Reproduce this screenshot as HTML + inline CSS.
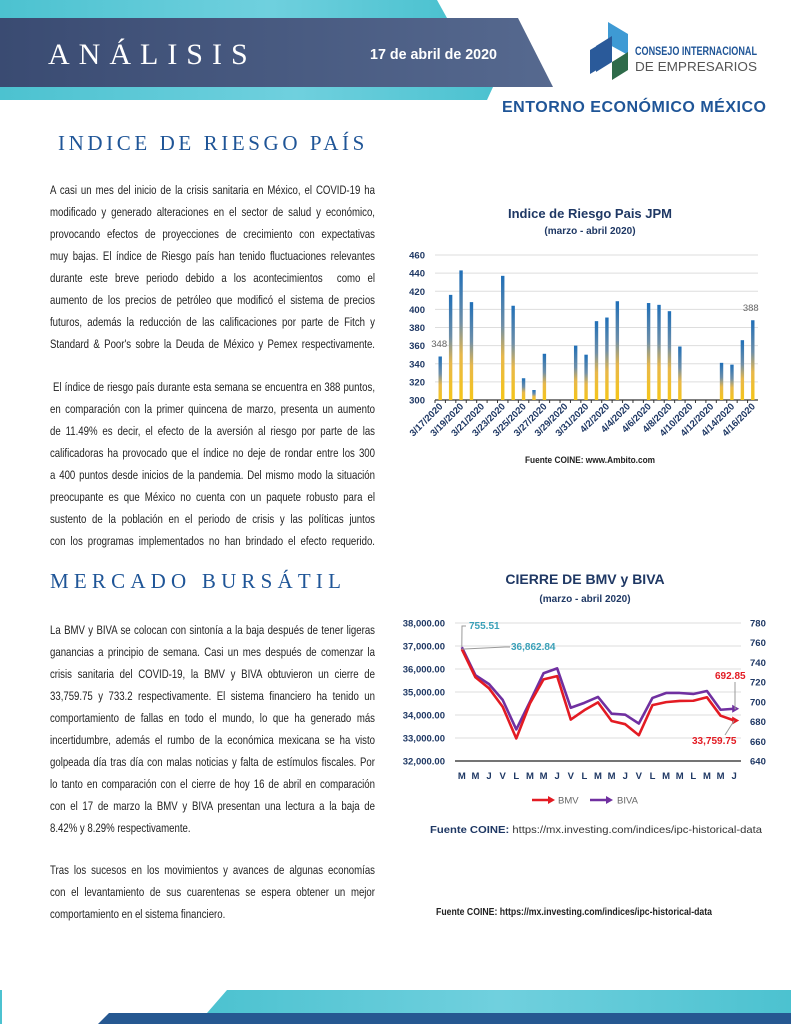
<!DOCTYPE html>
<html><head><meta charset="utf-8"><style>
*{margin:0;padding:0;box-sizing:border-box}
body{width:791px;height:1024px;position:relative;background:#fff;overflow:hidden;font-family:"Liberation Sans",sans-serif}
.abs{position:absolute}
.para{position:absolute;left:50px;width:412px;font-family:"Liberation Sans",sans-serif;font-size:12.2px;line-height:22px;color:#222;transform:scaleX(0.7888);transform-origin:0 0}
.para div{text-align:justify;text-align-last:justify;white-space:normal}
.para div.last{text-align-last:left}
.h{position:absolute;font-family:"Liberation Serif",serif;font-size:21px;letter-spacing:3.6px;color:#1f5597;white-space:nowrap}
</style></head><body>
<svg class="abs" style="left:0;top:0" width="791" height="130">
<defs><linearGradient id="cy" x1="0" x2="1"><stop offset="0" stop-color="#4cc2d0"/><stop offset="0.6" stop-color="#6fd0de"/><stop offset="1" stop-color="#4cc2d0"/></linearGradient>
<linearGradient id="nv" x1="0" x2="1"><stop offset="0" stop-color="#3a4b72"/><stop offset="1" stop-color="#56698f"/></linearGradient></defs>
<polygon points="0,0 437,0 447,18 0,18" fill="url(#cy)"/>
<polygon points="0,87 493,87 487,100 0,100" fill="url(#cy)"/>
<polygon points="0,18 518,18 553,87 0,87" fill="url(#nv)"/>
<text x="48" y="64" font-family="Liberation Serif" font-size="30" fill="#fff" letter-spacing="9">ANÁLISIS</text>
<text x="370" y="59" font-family="Liberation Sans" font-weight="bold" font-size="15" fill="#fff" textLength="127" lengthAdjust="spacingAndGlyphs">17 de abril de 2020</text>
<g>
<polygon points="608,22 628,34 628,55 608,44" fill="#3e9ad4"/>
<polygon points="596,46 612,36 612,62 596,72" fill="#2a5a9a"/>
<polygon points="612,62 628,52 628,70 612,80" fill="#2e6b4a"/>
<polygon points="590,50 600,44 600,68 590,74" fill="#2a5a9a"/>
</g>
<text x="635" y="55" font-family="Liberation Sans" font-weight="bold" font-size="12" fill="#1f5597" textLength="122" lengthAdjust="spacingAndGlyphs">CONSEJO INTERNACIONAL</text>
<text x="635" y="71" font-family="Liberation Sans" font-size="13" fill="#555" textLength="122" lengthAdjust="spacingAndGlyphs">DE EMPRESARIOS</text>
<text x="502" y="112" font-family="Liberation Sans" font-weight="bold" font-size="16" fill="#1f5597" textLength="264" lengthAdjust="spacing">ENTORNO ECONÓMICO MÉXICO</text>
</svg>

<div class="h" style="left:58px;top:131px">INDICE DE RIESGO PAÍS</div>
<div class="para" style="top:179px">
<div>A casi un mes del inicio de la crisis sanitaria en México, el COVID-19 ha</div>
<div>modificado y generado alteraciones en el sector de salud y económico,</div>
<div>provocando efectos de proyecciones de crecimiento con expectativas</div>
<div>muy bajas. El índice de Riesgo país han tenido fluctuaciones relevantes</div>
<div>durante este breve periodo debido a los acontecimientos&nbsp; como el</div>
<div>aumento de los precios de petróleo que modificó el sistema de precios</div>
<div>futuros, además la reducción de las calificaciones por parte de Fitch y</div>
<div>Standard &amp; Poor's sobre la Deuda de México y Pemex respectivamente.</div>
</div>
<div class="para" style="top:376px">
<div style="white-space:nowrap">&nbsp;El índice de riesgo país durante esta semana se encuentra en 388 puntos,</div>
<div>en comparación con la primer quincena de marzo, presenta un aumento</div>
<div>de 11.49% es decir, el efecto de la aversión al riesgo por parte de las</div>
<div>calificadoras ha provocado que el índice no deje de rondar entre los 300</div>
<div>a 400 puntos desde inicios de la pandemia. Del mismo modo la situación</div>
<div>preocupante es que México no cuenta con un paquete robusto para el</div>
<div>sustento de la población en el periodo de crisis y las políticas juntos</div>
<div>con los programas implementados no han brindado el efecto requerido.</div>
</div>
<div class="h" style="left:50px;top:569px;letter-spacing:5.2px">MERCADO BURSÁTIL</div>
<div class="para" style="top:619px">
<div>La BMV y BIVA se colocan con sintonía a la baja después de tener ligeras</div>
<div>ganancias a principio de semana. Casi un mes después de comenzar la</div>
<div>crisis sanitaria del COVID-19, la BMV y BIVA obtuvieron un cierre de</div>
<div>33,759.75 y 733.2 respectivamente. El sistema financiero ha tenido un</div>
<div>comportamiento de fallas en todo el mundo, lo que ha generado más</div>
<div>incertidumbre, además el rumbo de la económica mexicana se ha visto</div>
<div>golpeada día tras día con malas noticias y falta de estímulos fiscales. Por</div>
<div>lo tanto en comparación con el cierre de hoy 16 de abril en comparación</div>
<div>con el 17 de marzo la BMV y BIVA presentan una lectura a la baja de</div>
<div class="last">8.42% y 8.29% respectivamente.</div>
</div>
<div class="para" style="top:859px">
<div>Tras los sucesos en los movimientos y avances de algunas economías</div>
<div>con el levantamiento de sus cuarentenas se espera obtener un mejor</div>
<div class="last">comportamiento en el sistema financiero.</div>
</div>

<svg id="bar" class="abs" style="left:0;top:0" width="791" height="1024"></svg>

<svg class="abs" style="left:0;top:990px" width="791" height="34">
<defs><linearGradient id="cy2" x1="0" x2="1"><stop offset="0" stop-color="#4cc2d0"/><stop offset="0.5" stop-color="#70d0de"/><stop offset="1" stop-color="#4cc2d0"/></linearGradient></defs>
<polygon points="227,0 791,0 791,23 207,23" fill="url(#cy2)"/>
<polygon points="109,23 791,23 791,34 98,34" fill="#265891"/>
<rect x="0" y="0" width="2" height="34" fill="#4cc2d0"/>
</svg>

<script>
const NS="http://www.w3.org/2000/svg";
const svg=document.getElementById('bar');
function mk(t,a,p){const e=document.createElementNS(NS,t);for(const k in a)e.setAttribute(k,a[k]);(p||svg).appendChild(e);return e;}
function txt(x,y,s,a){const e=mk('text',Object.assign({x:x,y:y},a));e.textContent=s;return e;}

// ---- Bar chart data ----
const barDates=["3/17/2020","3/18","3/19/2020","3/20","3/21/2020","3/22","3/23/2020","3/24","3/25/2020","3/26","3/27/2020","3/28","3/29/2020","3/30","3/31/2020","4/1","4/2/2020","4/3","4/4/2020","4/5","4/6/2020","4/7","4/8/2020","4/9","4/10/2020","4/11","4/12/2020","4/13","4/14/2020","4/15","4/16/2020"];
const barValues=[348,416,443,408,null,null,437,404,324,311,351,null,null,360,350,387,391,409,null,null,407,405,398,359,null,null,null,341,339,366,388];
const barTicks=[300,320,340,360,380,400,420,440,460];

const bx0=435,bx1=758,by0=400,by1=255,bmin=300,bmax=460;
const bw=(bx1-bx0)/barDates.length;
const bX=i=>bx0+bw*(i+0.5);
const bY=v=>by0-(v-bmin)/(bmax-bmin)*(by0-by1);
const defs=mk('defs',{});
const g=mk('linearGradient',{id:'bg',x1:0,x2:0,y1:0,y2:1},defs);
mk('stop',{offset:'0','stop-color':'#1f6fb8'},g);
mk('stop',{offset:'0.4','stop-color':'#6f8fa8'},g);
mk('stop',{offset:'0.65','stop-color':'#e8b84a'},g);
mk('stop',{offset:'1','stop-color':'#f5c518'},g);

let t=txt(590,218,"Indice de Riesgo Pais JPM",{'text-anchor':'middle','font-size':13,'font-weight':'bold',fill:'#1f3864'});

t=txt(590,234,"(marzo - abril 2020)",{'text-anchor':'middle','font-size':10,'font-weight':'bold',fill:'#1f3864'});

barTicks.forEach(v=>{
  const l=mk('line',{x1:bx0,x2:bx1,y1:bY(v),y2:bY(v),stroke:v===300?'#333':'#ddd','stroke-width':v===300?1.2:1});
  
  const tt=txt(425,bY(v)+3.5,String(v),{'text-anchor':'end','font-size':9.5,'font-weight':'bold',fill:'#1f3864'});
  
});
barDates.forEach((d,i)=>{
  const tk=mk('line',{x1:bx0+bw*i,x2:bx0+bw*i,y1:by0,y2:by0+3,stroke:'#333'});
  
  const v=barValues[i];
  if(v!=null){
    const r=mk('rect',{x:bX(i)-1.7,y:bY(v),width:3.4,height:by0-bY(v),fill:'url(#bg)'});
    
  }
  if(i%2===0){
    const x=bX(i)+3,y=by0+7;
    const tl=txt(x,y,d,{'text-anchor':'end','font-size':9.5,'font-weight':'bold',fill:'#1f3864',transform:`rotate(-45 ${x} ${y})`});
    
  }
});
t=txt(bX(0)-1,347,"348",{'text-anchor':'middle','font-size':9.5,fill:'#666'});
t=txt(bX(30)-2,311,"388",{'text-anchor':'middle','font-size':9.5,fill:'#666'});
t=txt(590,463,"Fuente COINE: www.Ambito.com",{'text-anchor':'middle','font-size':9.5,'font-weight':'bold',fill:'#222',textLength:130,lengthAdjust:'spacingAndGlyphs'});


// ---- Line chart data ----
const lineDays=["M","M","J","V","L","M","M","J","V","L","M","M","J","V","L","M","M","L","M","M","J"];
const bmvValues=[36863,35640,35160,34360,32980,34500,35550,35690,33800,34210,34550,33740,33600,33120,34430,34560,34610,34620,34770,33970,33760];
const bivaValues=[755.5,727,718,702,672,700,729,734,694,699,705,688,687,678,704,709,709,708,711,692,693];
const leftTicks=[32000,33000,34000,35000,36000,37000,38000];
const rightTicks=[640,660,680,700,720,740,760,780];

const lx0=455,lx1=741,ly0=761,ly1=623;
const lstep=(lx1-lx0)/lineDays.length;
const lX=i=>lx0+lstep*(i+0.5);
const lY=v=>ly0-(v-32000)/6000*(ly0-ly1);
const rY=v=>ly0-(v-640)/140*(ly0-ly1);
t=txt(585,584,"CIERRE DE BMV y BIVA",{'text-anchor':'middle','font-size':14,'font-weight':'bold',fill:'#1f3864'});
t=txt(585,602,"(marzo - abril 2020)",{'text-anchor':'middle','font-size':10,'font-weight':'bold',fill:'#1f3864'});
leftTicks.forEach(v=>{
  const l=mk('line',{x1:lx0,x2:lx1,y1:lY(v),y2:lY(v),stroke:v===32000?'#222':'#ddd','stroke-width':v===32000?1.3:1});
  
  const tt=txt(445,lY(v)+3.5,v.toLocaleString('en-US',{minimumFractionDigits:2}),{'text-anchor':'end','font-size':9.5,'font-weight':'bold',fill:'#1f3864'});
  
});
rightTicks.forEach(v=>{
  const tt=txt(750,rY(v)+3.5,String(v),{'font-size':9.5,'font-weight':'bold',fill:'#1f3864'});
  
});
lineDays.forEach((d,i)=>{
  const tt=txt(lX(i),779,d,{'text-anchor':'middle','font-size':9.5,'font-weight':'bold',fill:'#1f3864'});
  
});
const bivaPath=mk('polyline',{points:bivaValues.map((v,i)=>lX(i)+','+rY(v)).join(' '),fill:'none',stroke:'#7030a0','stroke-width':2.6,'stroke-linejoin':'round'});

const bmvPath=mk('polyline',{points:bmvValues.map((v,i)=>lX(i)+','+lY(v)).join(' '),fill:'none',stroke:'#e31b23','stroke-width':2.6,'stroke-linejoin':'round'});

const ex=lX(20);
mk('polygon',{points:`${ex+5},${lY(bmvValues[20])} ${ex-2},${lY(bmvValues[20])-4} ${ex-2},${lY(bmvValues[20])+4}`,fill:'#e31b23'});
mk('polygon',{points:`${ex+5},${rY(bivaValues[20])} ${ex-2},${rY(bivaValues[20])-4} ${ex-2},${rY(bivaValues[20])+4}`,fill:'#7030a0'});
mk('polyline',{points:`${lX(0)},${rY(bivaValues[0])} 462,626 466,626`,fill:'none',stroke:'#999'});
t=txt(469,629,"755.51",{'font-size':10,'font-weight':'bold',fill:'#3aa0b8'});
mk('polyline',{points:`${lX(0)},${lY(bmvValues[0])} 505,647 510,647`,fill:'none',stroke:'#999'});
t=txt(511,650,"36,862.84",{'font-size':10,'font-weight':'bold',fill:'#3aa0b8'});
mk('polyline',{points:`${ex+2},${rY(bivaValues[20])} 735,${rY(bivaValues[20])} 735,682`,fill:'none',stroke:'#999'});
t=txt(715,679,"692.85",{'font-size':10,'font-weight':'bold',fill:'#e31b23'});
mk('line',{x1:ex,y1:lY(bmvValues[20]),x2:725,y2:735,stroke:'#999'});
t=txt(692,744,"33,759.75",{'font-size':10,'font-weight':'bold',fill:'#e31b23'});
mk('line',{x1:532,x2:550,y1:800,y2:800,stroke:'#e31b23','stroke-width':2.6});
mk('polygon',{points:'555,800 548,796 548,804',fill:'#e31b23'});
t=txt(558,803.5,"BMV",{'font-size':9.5,fill:'#666'});
mk('line',{x1:590,x2:608,y1:800,y2:800,stroke:'#7030a0','stroke-width':2.6});
mk('polygon',{points:'613,800 606,796 606,804',fill:'#7030a0'});
t=txt(617,803.5,"BIVA",{'font-size':9.5,fill:'#666'});
t=txt(430,833,"",{'font-size':10.5,fill:'#333',textLength:332,lengthAdjust:'spacingAndGlyphs'});
t.innerHTML='<tspan font-weight="bold" fill="#1f3864">Fuente COINE:</tspan> https://mx.investing.com/indices/ipc-historical-data';
t=txt(436,915,"Fuente COINE: https://mx.investing.com/indices/ipc-historical-data",{'font-size':10,'font-weight':'bold',fill:'#222',textLength:276,lengthAdjust:'spacingAndGlyphs'});

</script>
</body></html>
